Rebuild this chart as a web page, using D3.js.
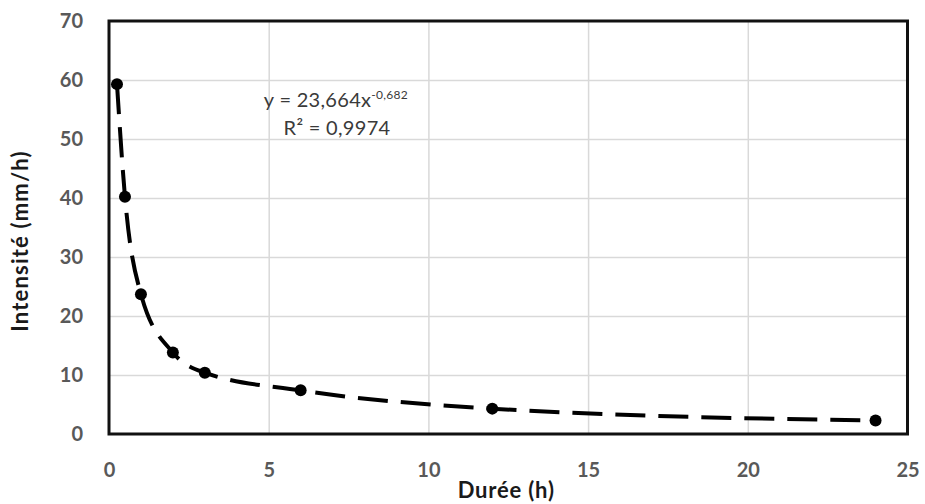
<!DOCTYPE html>
<html>
<head>
<meta charset="utf-8">
<script src="https://cdn.jsdelivr.net/npm/d3@7/dist/d3.min.js"></script>
<style>
  html, body { margin: 0; padding: 0; background: #fff; }
  svg { display: block; font-family: Lato, "Open Sans", sans-serif; }
</style>
</head>
<body>
<svg id="chart" width="925" height="504"></svg>
<script>
// Durée de l'averse (h) et intensité moyenne correspondante (mm/h)
const durations = [0.25, 0.5, 1, 2, 3, 6, 12, 24];
const intensities = [59.3, 40.2, 23.7, 13.8, 10.4, 7.4, 4.3, 2.3];

const xTicks = [0, 5, 10, 15, 20, 25];
const yTicks = [0, 10, 20, 30, 40, 50, 60, 70];

const xTitle = "Durée (h)";
const yTitle = "Intensité (mm/h)";
const fitCoef = "23,664";
const fitExp = "-0,682";
const fitR2 = "0,9974";

const W = 925, H = 504;
const margin = { top: 21, right: 17.5, bottom: 70, left: 109 };
const iw = W - margin.left - margin.right;
const ih = H - margin.top - margin.bottom;

const svg = d3.select("#chart");
const g = svg.append("g").attr("transform", `translate(${margin.left},${margin.top})`);

const x = d3.scaleLinear().domain([0, 25]).range([0, iw]);
const y = d3.scaleLinear().domain([0, 70]).range([ih, 0]);

// gridlines
g.append("g")
  .attr("class", "grid")
  .call(d3.axisLeft(y).tickValues(yTicks.slice(1, -1)).tickSize(-iw).tickFormat(""))
  .call(s => s.select(".domain").remove())
  .call(s => s.selectAll("line").attr("stroke", "#d9d9d9").attr("stroke-width", 1.5));
g.append("g")
  .attr("class", "grid")
  .attr("transform", `translate(0,${ih})`)
  .call(d3.axisBottom(x).tickValues(xTicks.slice(1, -1)).tickSize(-ih).tickFormat(""))
  .call(s => s.select(".domain").remove())
  .call(s => s.selectAll("line").attr("stroke", "#d9d9d9").attr("stroke-width", 1.5));

// tick labels
const labelStyle = s => s.selectAll("text")
  .attr("fill", "#595959")
  .style("font-size", "20px")
  .style("font-weight", "700")
  .style("font-family", "Lato, 'Open Sans', sans-serif");

g.append("g")
  .call(d3.axisLeft(y).tickValues(yTicks).tickSize(0).tickPadding(26).tickFormat(d3.format("d")))
  .call(s => s.select(".domain").remove())
  .call(labelStyle);

g.append("g")
  .attr("transform", `translate(0,${ih})`)
  .call(d3.axisBottom(x).tickValues(xTicks).tickSize(0).tickPadding(29).tickFormat(d3.format("d")))
  .call(s => s.select(".domain").remove())
  .call(labelStyle);

// plot frame
g.append("rect")
  .attr("x", 0).attr("y", 0)
  .attr("width", iw).attr("height", ih)
  .attr("fill", "none")
  .attr("stroke", "#111")
  .attr("stroke-width", 3);

// series
const pts = durations.map((d, i) => [d, intensities[i]]);
const line = d3.line()
  .x(d => x(d[0]))
  .y(d => y(d[1]))
  .curve(d3.curveMonotoneX);

g.append("path")
  .datum(pts)
  .attr("d", line)
  .attr("fill", "none")
  .attr("stroke", "#000")
  .attr("stroke-width", 4)
  .attr("stroke-dasharray", "30 13");

g.selectAll("circle.pt")
  .data(pts)
  .join("circle")
  .attr("class", "pt")
  .attr("cx", d => x(d[0]))
  .attr("cy", d => y(d[1]))
  .attr("r", 6)
  .attr("fill", "#000");

// regression label
const eq = g.append("text")
  .attr("x", 227).attr("y", 86)
  .attr("text-anchor", "middle")
  .attr("fill", "#3a3a3a")
  .style("font-size", "20px")
  .style("letter-spacing", "0.3px");
eq.append("tspan").text(`y = ${fitCoef}x`);
eq.append("tspan").attr("dy", -8).style("font-size", "12px").text(fitExp);

g.append("text")
  .attr("x", 228).attr("y", 114)
  .attr("text-anchor", "middle")
  .attr("fill", "#3a3a3a")
  .style("font-size", "20px")
  .style("letter-spacing", "0.3px")
  .text(`R² = ${fitR2}`);

// axis titles
svg.append("text")
  .attr("x", margin.left + iw / 2 - 2)
  .attr("y", 498)
  .attr("text-anchor", "middle")
  .attr("fill", "#1a1a1a")
  .style("font-size", "22px")
  .style("font-weight", "700")
  .style("letter-spacing", "0.8px")
  .text(xTitle);

svg.append("text")
  .attr("transform", "translate(28,241) rotate(-90)")
  .attr("text-anchor", "middle")
  .attr("fill", "#1a1a1a")
  .style("font-size", "22px")
  .style("font-weight", "700")
  .style("letter-spacing", "1.2px")
  .text(yTitle);
</script>
</body>
</html>
